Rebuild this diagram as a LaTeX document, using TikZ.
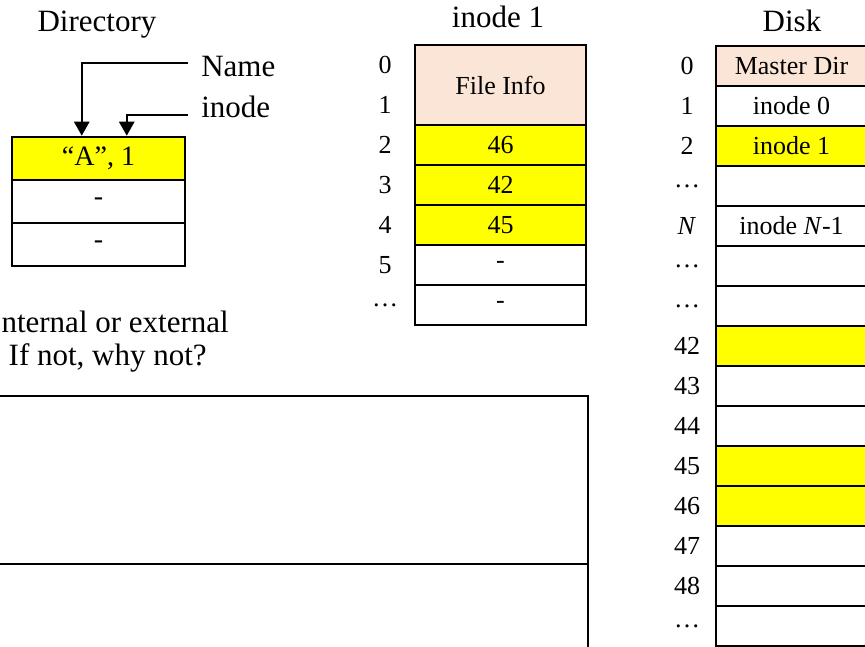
\documentclass[tikz,border=0pt]{standalone}
\usepackage{fontspec}
\setmainfont{Liberation Serif}
\usetikzlibrary{arrows.meta}
\definecolor{cellyellow}{RGB}{255,255,0}
\definecolor{cellpeach}{RGB}{251,229,214}
\tikzset{title/.style={font=\fontsize{31}{36}\selectfont},
         arr/.style={-{Triangle[length=14pt 0,width=15pt 0]}}}

\begin{document}
\begin{tikzpicture}[x=1pt,y=-1pt,line width=2.5pt]
\useasboundingbox (0,0) rectangle (865,647);
% titles
\node[title,anchor=base] (tdir) at (97,32) {Directory};
\node[title,anchor=base] (tino) at (498,28) {inode 1};
\node[title,anchor=base] (tdisk) at (792,32) {Disk};
% directory
\begin{scope}[every node/.style={draw,inner sep=0pt,minimum width=173pt,minimum height=43pt,font=\fontsize{28}{32}\selectfont}]
    \node[fill=cellyellow] (dA) at (98.5,158.5) {“A”, 1};
    \node (d2) at (98.5,201.5) {-};
    \node (d3) at (98.5,244.5) {-};
\end{scope}
\node[title,anchor=base west,inner xsep=12pt] (lname) at (188,77) {Name};
\node[title,anchor=base west,inner xsep=12pt] (linode) at (188,118) {inode};
\draw[arr] ([yshift=14pt]lname.base west) -| ([xshift=71pt]dA.north west);
\draw[arr] ([yshift=3pt]linode.base west) -| ([xshift=116pt]dA.north west);
% inode 1
\begin{scope}[every node/.style={draw,inner sep=0pt,minimum width=171pt,minimum height=40pt,font=\fontsize{26}{30}\selectfont}]
    \node[fill=cellpeach,minimum height=80pt] (i1) at (500.5,85) {File Info};
    \node[fill=cellyellow] (i2) at (500.5,145) {46};
    \node[fill=cellyellow] (i3) at (500.5,185) {42};
    \node[fill=cellyellow] (i4) at (500.5,225) {45};
    \node (i5) at (500.5,265) {-};
    \node (i6) at (500.5,305) {-};
\end{scope}
\begin{scope}[every node/.style={font=\fontsize{26}{30}\selectfont}]
    \node (n0) at (385,65) {0};
    \node (n1) at (385,105) {1};
    \node (n2) at (385,145) {2};
    \node (n3) at (385,185) {3};
    \node (n4) at (385,225) {4};
    \node (n5) at (385,265) {5};
    \node (n6) at (385,305) {…};
\end{scope}
% disk
\begin{scope}[every node/.style={draw,inner sep=0pt,minimum width=151pt,minimum height=40pt,font=\fontsize{26}{30}\selectfont}]
    \node[fill=cellpeach] (k0) at (791.5,66) {Master Dir};
    \node (k1) at (791.5,106) {inode 0};
    \node[fill=cellyellow] (k2) at (791.5,146) {inode 1};
    \node (k3) at (791.5,186) {};
    \node (k4) at (791.5,226) {inode \textit{N}-1};
    \node (k5) at (791.5,266) {};
    \node (k6) at (791.5,306) {};
    \node[fill=cellyellow] (k42) at (791.5,346) {};
    \node (k43) at (791.5,386) {};
    \node (k44) at (791.5,426) {};
    \node[fill=cellyellow] (k45) at (791.5,466) {};
    \node[fill=cellyellow] (k46) at (791.5,506) {};
    \node (k47) at (791.5,546) {};
    \node (k48) at (791.5,586) {};
    \node (k49) at (791.5,626) {};
\end{scope}
\begin{scope}[every node/.style={font=\fontsize{26}{30}\selectfont}]
    \node (m0) at (687,66) {0};
    \node (m1) at (687,106) {1};
    \node (m2) at (687,146) {2};
    \node (m3) at (687,186) {…};
    \node (m4) at (687,226) {\textit{N}};
    \node (m5) at (687,266) {…};
    \node (m6) at (687,306) {…};
    \node (m42) at (687,346) {42};
    \node (m43) at (687,386) {43};
    \node (m44) at (687,426) {44};
    \node (m45) at (687,466) {45};
    \node (m46) at (687,506) {46};
    \node (m47) at (687,546) {47};
    \node (m48) at (687,586) {48};
    \node (m49) at (687,626) {…};
\end{scope}
% question and answer boxes
\node[title,anchor=base east,inner sep=0pt] (q1) at (230,332) {nternal or external};
\node[title,anchor=base east,inner sep=0pt] (q2) at (208,365) {If not, why not?};
\draw (-10,396) rectangle (588,564);
\draw (-10,564) rectangle (588,670);
\end{tikzpicture}
\end{document}
